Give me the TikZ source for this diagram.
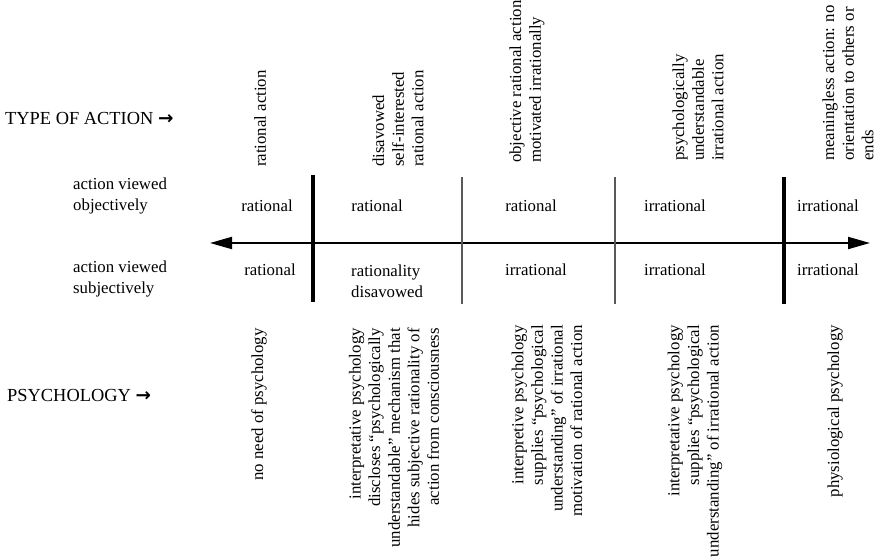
\documentclass[tikz,border=0pt]{standalone}
\usepackage{fontspec}
\setmainfont{Liberation Serif}
\newfontfamily\arrowfont{DejaVu Sans}
\usetikzlibrary{arrows.meta, positioning}

\begin{document}
\begin{tikzpicture}[
    x=1pt, y=-1pt,
    every node/.style={font=\fontsize{16.8pt}{19.6pt}\selectfont, inner sep=0pt},
    head/.style={font=\fontsize{18.4pt}{21pt}\selectfont, anchor=west},
    side/.style={font=\fontsize{16.8pt}{21pt}\selectfont, align=left, anchor=west},
    cell/.style={anchor=center},
    toplab/.style={rotate=90, anchor=west, align=left},
    botlab/.style={rotate=90, anchor=east, align=right},
    thickdiv/.style={line width=3.5pt},
    thindiv/.style={line width=1.3pt, draw=black!65},
    axis/.style={line width=2pt, {Triangle[length=22pt,width=12pt]}-{Triangle[length=22pt,width=12pt]}}
]
\useasboundingbox (0,0) rectangle (885,557);

% Row headings
\node[head] (type) at (5,118) {TYPE OF ACTION {\arrowfont\bfseries →}};
\node[head] (psy) at (7,395) {PSYCHOLOGY {\arrowfont\bfseries →}};
\node[side] (objv) at (73,196) {action viewed\\objectively};
\node[side] (subv) at (73,279) {action viewed\\subjectively};

% Axis
\coordinate (axL) at (210,243);
\coordinate (axR) at (870,243);
\draw[axis] (axL) -- (axR);

% Dividers
\draw[thickdiv] (313,175) -- (313,302);
\draw[thindiv] (462,177) -- (462,304);
\draw[thindiv] (615,177) -- (615,304);
\draw[thickdiv] (784,177) -- (784,304);

% Type of action (top)
\node[toplab] (t0) at (260,167) {rational action};
\node[toplab] (t1) at (398,167) {disavowed\\self-interested\\rational action};
\node[toplab] (t2) at (527,163) {objective rational action\\motivated irrationally};
\node[toplab] (t3) at (698,161) {psychologically\\understandable\\irrational action};
\node[toplab] (t4) at (848,161) {meaningless action: no\\orientation to others or\\ends};

% Viewed objectively
\node[cell] (obj0) at (267,206) {rational};
\node[cell] (obj1) at (377,206) {rational};
\node[cell] (obj2) at (531,206) {rational};
\node[cell] (obj3) at (675,206) {irrational};
\node[cell] (obj4) at (828,206) {irrational};

% Viewed subjectively
\node[cell] (sub0) at (270,270) {rational};
\node[side] (sub1) at (351,281) {rationality\\disavowed};
\node[cell] (sub2) at (536,270) {irrational};
\node[cell] (sub3) at (675,270) {irrational};
\node[cell] (sub4) at (828,270) {irrational};

% Psychology (bottom)
\node[botlab] (p0) at (259,328) {no need of psychology};
\node[botlab] (p1) at (394,328) {interpretative psychology\\discloses “psychologically\\understandable” mechanism that\\hides subjective rationality of\\action from consciousness};
\node[botlab] (p2) at (547,325) {interpretive psychology\\supplies “psychological\\understanding” of irrational\\motivation of rational action};
\node[botlab] (p3) at (695,325) {interpretative psychology\\supplies “psychological\\understanding” of irrational action};
\node[botlab] (p4) at (835,325) {physiological psychology};

\end{tikzpicture}
\end{document}
